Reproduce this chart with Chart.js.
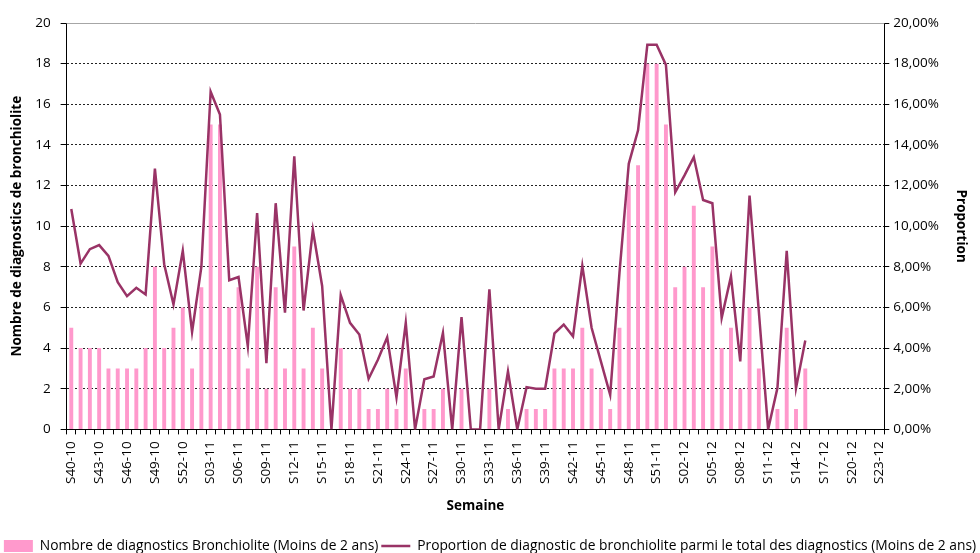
<!DOCTYPE html>
<html lang="fr">
<head>
<meta charset="utf-8">
<script src="https://cdn.jsdelivr.net/npm/chart.js@4/dist/chart.umd.min.js"></script>
<style>
  html, body { margin: 0; padding: 0; background: #fff; }
  #wrap { width: 980px; height: 553px; position: relative; }
</style>
</head>
<body>
<div id="wrap"><canvas id="chart"></canvas></div>
<script>
const weeks = [
  "S40-10", "S41-10", "S42-10", "S43-10", "S44-10", "S45-10", "S46-10", "S47-10", "S48-10", "S49-10",
  "S50-10", "S51-10", "S52-10", "S01-11", "S02-11", "S03-11", "S04-11", "S05-11", "S06-11", "S07-11",
  "S08-11", "S09-11", "S10-11", "S11-11", "S12-11", "S13-11", "S14-11", "S15-11", "S16-11", "S17-11",
  "S18-11", "S19-11", "S20-11", "S21-11", "S22-11", "S23-11", "S24-11", "S25-11", "S26-11", "S27-11",
  "S28-11", "S29-11", "S30-11", "S31-11", "S32-11", "S33-11", "S34-11", "S35-11", "S36-11", "S37-11",
  "S38-11", "S39-11", "S40-11", "S41-11", "S42-11", "S43-11", "S44-11", "S45-11", "S46-11", "S47-11",
  "S48-11", "S49-11", "S50-11", "S51-11", "S52-11", "S01-12", "S02-12", "S03-12", "S04-12", "S05-12",
  "S06-12", "S07-12", "S08-12", "S09-12", "S10-12", "S11-12", "S12-12", "S13-12", "S14-12", "S15-12",
  "S16-12", "S17-12", "S18-12", "S19-12", "S20-12", "S21-12", "S22-12", "S23-12"
];

// nombre de diagnostics (moins de 2 ans)
const nbDiagnostics = [
  5, 4, 4, 4, 3, 3, 3, 3, 4, 8,
  4, 5, 6, 3, 7, 15, 15, 6, 7, 3,
  8, 2, 7, 3, 9, 3, 5, 3, 0, 4,
  2, 2, 1, 1, 2, 1, 3, 0, 1, 1,
  2, 0, 2, 0, 0, 2, 0, 1, 0, 1,
  1, 1, 3, 3, 3, 5, 3, 2, 1, 5,
  12, 13, 18, 18, 15, 7, 8, 11, 7, 9,
  4, 5, 2, 6, 3, 0, 1, 5, 1, 3,
  null, null, null, null, null, null, null, null
];

// proportion en %
const proportion = [
  10.85, 8.16, 8.87, 9.07, 8.54, 7.25, 6.56, 6.97, 6.64, 12.83,
  8.13, 6.15, 8.79, 4.8, 8.0, 16.62, 15.5, 7.34, 7.5, 4.09,
  10.65, 3.26, 11.13, 5.74, 13.44, 5.85, 9.81, 7.06, 0, 6.61,
  5.24, 4.67, 2.49, 3.43, 4.53, 1.57, 5.24, 0, 2.47, 2.6,
  4.75, 0, 5.52, 0, 0, 6.89, 0, 2.85, 0, 2.08,
  2.0, 2.0, 4.72, 5.16, 4.58, 8.05, 5.0, 3.35, 1.7, 7.7,
  13.07, 14.72, 18.93, 18.93, 17.94, 11.67, 12.5, 13.4, 11.29, 11.13,
  5.49, 7.53, 3.35, 11.51, 5.8, 0, 2.03, 8.79, 2.03, 4.37,
  null, null, null, null, null, null, null, null
];

const leftTicks = [0, 2, 4, 6, 8, 10, 12, 14, 16, 18, 20];

const FONT = "'Open Sans', sans-serif";
const tickFont = { family: FONT, size: 13.5 };
const titleFont = { family: FONT, size: 13.5, weight: "bold" };

// ligne grise en haut de la zone de tracé
const topBorder = {
  id: "topBorder",
  afterDraw(chart) {
    const { ctx, chartArea } = chart;
    ctx.save();
    ctx.strokeStyle = "#a6a6a6";
    ctx.lineWidth = 1;
    ctx.beginPath();
    ctx.moveTo(chartArea.left, Math.round(chartArea.top) + 0.5);
    ctx.lineTo(chartArea.right, Math.round(chartArea.top) + 0.5);
    ctx.stroke();
    ctx.restore();
  },
};

new Chart(document.getElementById("chart"), {
  data: {
    labels: weeks,
    datasets: [
      {
        type: "bar",
        label: "Nombre de diagnostics Bronchiolite (Moins de 2 ans)",
        data: nbDiagnostics,
        backgroundColor: "#ff99cc",
        borderWidth: 0,
        barPercentage: 0.42,
        categoryPercentage: 1,
        yAxisID: "y",
        order: 2,
        pointStyle: "rect",
      },
      {
        type: "line",
        label: "Proportion de diagnostic de bronchiolite parmi le total des diagnostics (Moins de 2 ans)",
        data: proportion,
        borderColor: "#993366",
        backgroundColor: "#993366",
        borderWidth: 2.5,
        pointRadius: 0,
        tension: 0,
        yAxisID: "y1",
        order: 1,
        pointStyle: "line",
      },
    ],
  },
  options: {
    responsive: true,
    maintainAspectRatio: false,
    animation: false,
    layout: { padding: { left: 0, right: 0, top: 23, bottom: -10 } },
    plugins: {
      tooltip: { enabled: false },
      legend: {
        position: "bottom",
        labels: {
          usePointStyle: true,
          pointStyleWidth: 29,
          boxHeight: 12,
          padding: 3,
          color: "#000",
          font: { family: FONT, size: 13.8 },
          sort: (a, b) => a.datasetIndex - b.datasetIndex,
        },
      },
    },
    scales: {
      x: {
        offset: true,
        grid: { drawOnChartArea: false, drawTicks: true, tickLength: 5, color: "#000", offset: true },
        border: { color: "#000", width: 1 },
        ticks: {
          autoSkip: false,
          maxRotation: 90,
          minRotation: 90,
          padding: 7,
          color: "#000",
          font: tickFont,
          callback: (v, i) => (i % 3 === 0 ? weeks[i] : ""),
        },
        title: { display: true, text: "Semaine", color: "#000", font: titleFont, padding: { top: 7, bottom: 22 } },
      },
      y: {
        position: "left",
        min: 0,
        max: 20,
        afterBuildTicks: (axis) => { axis.ticks = leftTicks.map((v) => ({ value: v })); },
        grid: {
          color: (c) => (c.tick && c.tick.value === 20 ? "rgba(0,0,0,0)" : "#222"),
          tickColor: "#000",
          tickLength: 6,
        },
        border: { color: "#000", width: 1, dash: [2, 2] },
        ticks: { color: "#000", font: tickFont, padding: 10 },
        title: { display: true, text: "Nombre de diagnostics de bronchiolite", color: "#000", font: titleFont, padding: { top: 9, bottom: 0 } },
      },
      y1: {
        position: "right",
        min: 0,
        max: 20,
        afterBuildTicks: (axis) => { axis.ticks = leftTicks.map((v) => ({ value: v })); },
        grid: { drawOnChartArea: false, tickLength: 5, color: "#000" },
        border: { color: "#000", width: 1 },
        ticks: {
          color: "#000",
          font: tickFont,
          padding: 4,
          callback: (v) => v.toFixed(2).replace(".", ",") + "%",
        },
        title: { display: true, text: "Proportion", color: "#000", font: titleFont, padding: { top: 11, bottom: 10 } },
      },
    },
  },
  plugins: [topBorder],
});
</script>
</body>
</html>
